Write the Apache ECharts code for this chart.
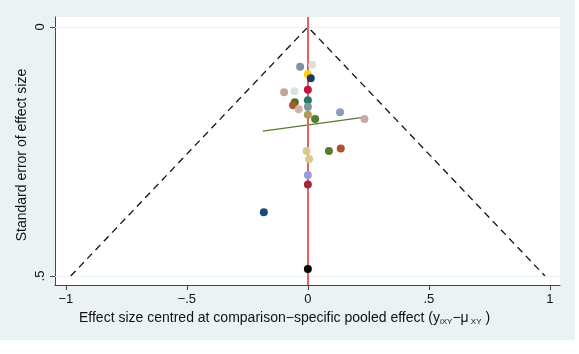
<!DOCTYPE html>
<html>
<head>
<meta charset="UTF-8" />
<title>Comparison-adjusted funnel plot</title>
<script src="https://cdn.jsdelivr.net/npm/echarts@6/dist/echarts.min.js"></script>
<style>
  body { margin: 0; background: #fff; }
  #bg { position: absolute; left: 0; top: 0; width: 575px; height: 340px; background: #eaf2f3; }
  #main { position: absolute; left: 0; top: 0; width: 579px; height: 354px; }
</style>
</head>
<body>
<div id="bg"></div>
<div id="main"></div>
<script>
// study estimates, centred at the comparison-specific pooled effect
const effectX = [-0.032, 0.018, 0.0, 0.012, -0.098, -0.055, 0.0, 0.0, -0.054, -0.061, -0.038, 0.0, 0.0, 0.030, 0.133, 0.234,
  -0.005, 0.005, 0.087, 0.136, 0.0, 0.0, -0.182, 0.0];
const seY = [0.080, 0.076, 0.095, 0.103, 0.131, 0.129, 0.126, 0.147, 0.151, 0.157, 0.165, 0.160, 0.176, 0.185, 0.171, 0.185,
  0.249, 0.265, 0.249, 0.244, 0.297, 0.316, 0.372, 0.486];
const pointColors = ['#7d92a8', '#dedede', '#ffd200', '#1d3a5c', '#c2a3a0', '#d8e2e2', '#c0173d', '#28776c', '#4b6e1f', '#a65a2a',
  '#d2b1aa', '#7b9a97', '#b29a52', '#587a2b', '#8a9db9', '#c8a9a9',
  '#d9ca8f', '#d8c98c', '#5a7a2b', '#b2522b', '#9b9bd9', '#a0283c', '#1a4a7a', '#000000'];

// fitted line (small-study effects)
const fitX = [-0.186, 0.236];
const fitY = [0.209, 0.181];

// funnel
const pooled = 0;
const seMax = 0.5;
const z = 1.96;

const xTicks = [-1, -0.5, 0, 0.5, 1];
const yTicks = [0, 0.5];

function stataNum(v) {
  if (v === 0) return '0';
  const s = String(Math.abs(v)).replace(/^0/, '');
  return (v < 0 ? '\u2212' : '') + s;
}

const chart = echarts.init(document.getElementById('main'));
const font = 'Liberation Sans, Arial, sans-serif';

chart.setOption({
  backgroundColor: 'transparent',
  animation: false,
  textStyle: { fontFamily: font },
  grid: { left: 55, right: 19, top: 17, bottom: 69, show: true, backgroundColor: '#ffffff', borderWidth: 0 },
  xAxis: {
    type: 'value', min: -1.045, max: 1.042,
    axisLine: { show: true, onZero: false, lineStyle: { color: '#444', width: 1 } },
    axisTick: { show: true, length: 5, customValues: xTicks, lineStyle: { color: '#444' } },
    axisLabel: { customValues: xTicks, formatter: stataNum, color: '#111', fontSize: 13, margin: 8 },
    splitLine: { show: false }
  },
  yAxis: {
    type: 'value', inverse: true, min: -0.02, max: 0.518,
    axisLine: { show: true, onZero: false, lineStyle: { color: '#444', width: 1 } },
    axisTick: { show: true, length: 5, customValues: yTicks, lineStyle: { color: '#444' } },
    axisLabel: { customValues: yTicks, formatter: stataNum, color: '#111', fontSize: 13, rotate: 90, margin: 8 },
    splitLine: { show: false }
  },
  graphic: [
    {
      type: 'text', x: 79, y: 311,
      style: {
        text: 'Effect size centred at comparison\u2212specific pooled effect ({a|y}{s|iXY}{a|\u2212\u03bc}{s| XY}{a| )}',
        font: '14px ' + font, fill: '#111',
        rich: {
          a: { fontSize: 14, fontFamily: font, fill: '#111' },
          s: { fontSize: 8, fontFamily: font, fill: '#111', padding: [7, 0, 0, 0] }
        }
      }
    },
    {
      type: 'text', rotation: Math.PI / 2, x: 15, y: 155,
      style: {
        text: 'Standard error of effect size', font: '14px ' + font, fill: '#111',
        align: 'center', verticalAlign: 'top'
      }
    }
  ],
  series: [
    {
      type: 'line', z: 1, data: [], silent: true,
      markLine: {
        silent: true, symbol: 'none', label: { show: false },
        data: yTicks.map(v => ({ yAxis: v, lineStyle: { color: '#eaf2f3', width: 1, type: 'solid' } }))
          .concat([{ xAxis: pooled, lineStyle: { color: '#e56262', width: 2, type: 'solid' } }])
      }
    },
    {
      type: 'line', z: 2, symbol: 'none', silent: true,
      lineStyle: { color: '#111', width: 1.3, type: [7, 5] },
      data: [[pooled - z * seMax, seMax], [pooled, 0], [pooled + z * seMax, seMax]]
    },
    {
      type: 'line', z: 3, symbol: 'none', silent: true,
      lineStyle: { color: '#557a30', width: 1.3 },
      data: fitX.map((x, i) => [x, fitY[i]])
    },
    {
      type: 'scatter', z: 5, symbolSize: 8,
      data: effectX.map((x, i) => [x, seY[i]]),
      itemStyle: { color: p => pointColors[p.dataIndex], opacity: 1 }
    }
  ]
});
</script>
</body>
</html>
